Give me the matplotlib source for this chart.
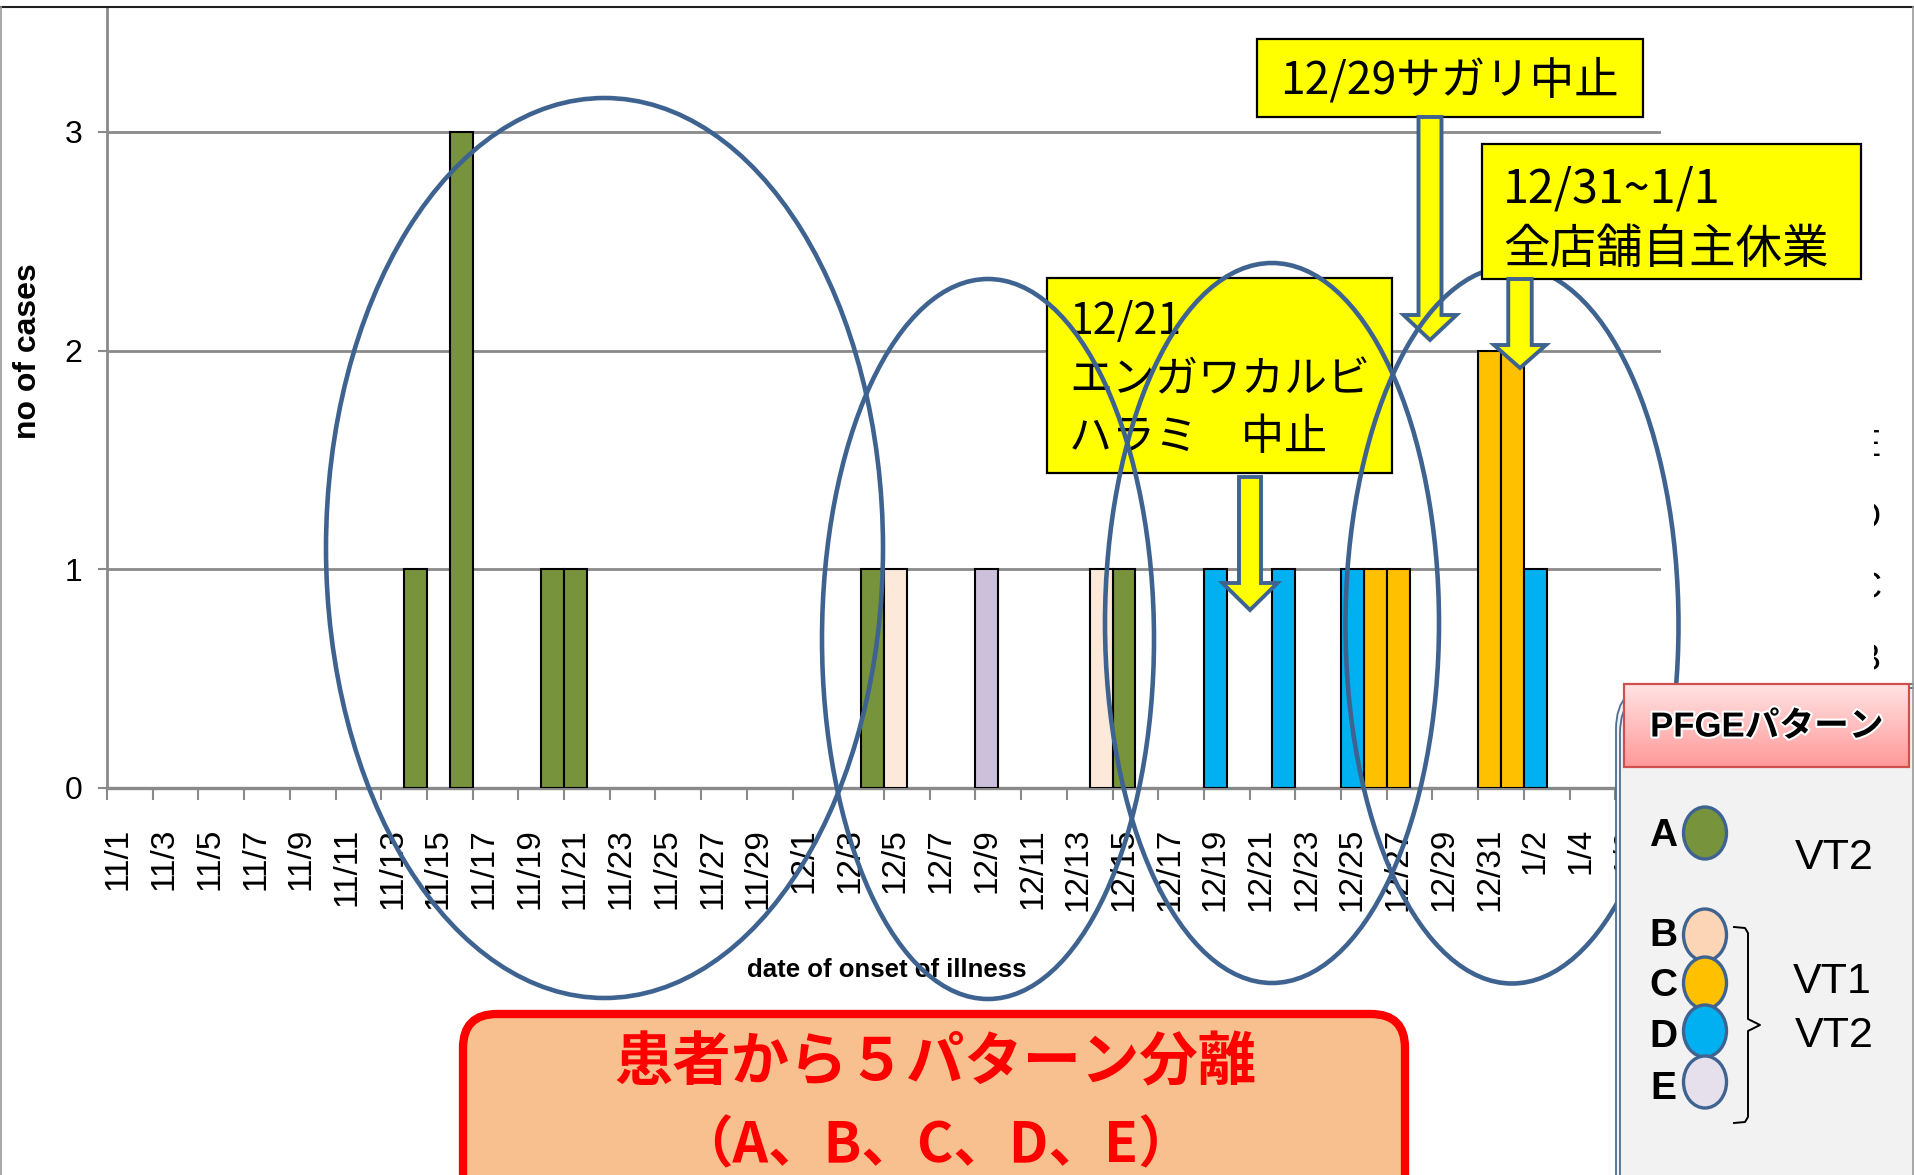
import numpy as np
import pandas as pd
import matplotlib
matplotlib.use('Agg')
import matplotlib.pyplot as plt
import matplotlib.patheffects as pe
from matplotlib import font_manager
from matplotlib.patches import Ellipse, Rectangle, FancyBboxPatch, Polygon

# onset dates on the category axis, 11/1 .. 1/7 (year not given on the slide)
days = pd.date_range('2011-11-01', '2012-01-07', freq='D')
day_labels = [f'{d.month}/{d.day}' for d in days]

# number of cases per PFGE pattern, by date of onset
cases_A = {'11/14': 1, '11/16': 3, '11/20': 1, '11/21': 1, '12/4': 1, '12/15': 1}
cases_B = {'12/5': 1, '12/14': 1}
cases_C = {'12/26': 1, '12/27': 1, '12/31': 2, '1/1': 2}
cases_D = {'12/19': 1, '12/22': 1, '12/25': 1, '1/2': 1}
cases_E = {'12/9': 1}

patterns = ['A', 'B', 'C', 'D', 'E']
pattern_cases = [cases_A, cases_B, cases_C, cases_D, cases_E]
bar_colors = ['#77933C', '#FDE9D9', '#FFC000', '#00B0F0', '#CCC1DA']
key_colors = ['#77933C', '#FBD5B5', '#FFC000', '#00B0F0', '#E6E0EC']
y_ticks = [0, 1, 2, 3]

note_2921 = '12/29サガリ中止'
note_3101 = ['12/31~1/1', '全店舗自主休業']
note_1221 = ['12/21', 'エンガワカルビ', 'ハラミ\u3000中止']
summary = ['患者から５パターン分離', '（A、B、C、D、E）']

names = {f.name for f in font_manager.fontManager.ttflist}
SANS = 'Liberation Sans'
NARROW = 'Liberation Sans Narrow' if 'Liberation Sans Narrow' in names else SANS
JP = ['Noto Sans CJK JP', 'DejaVu Sans']
plt.rcParams['font.family'] = [SANS, 'Noto Sans CJK JP', 'DejaVu Sans']

W, H = 1915, 1175
fig = plt.figure(figsize=(W / 100, H / 100), dpi=100)
fig.patch.set_facecolor('white')

x0, x1, yb, yt = 107, 1661, 787.7, 8
ax = fig.add_axes([x0 / W, 1 - yb / H, (x1 - x0) / W, (yb - yt) / H])

x = np.arange(len(days))
bottom = np.zeros(len(days))
for cases, col in zip(pattern_cases, bar_colors):
    vals = np.array([cases.get(lbl, 0) for lbl in day_labels], dtype=float)
    m = vals > 0
    ax.bar(x[m], vals[m], width=1.0, bottom=bottom[m], color=col,
           edgecolor='black', linewidth=1.5, zorder=3)
    bottom += vals

grey = '#8A8A8A'
ax.set_xlim(-0.5, len(days) - 0.5)
ax.set_ylim(0, 3.567)
ax.set_yticks(y_ticks)
ax.yaxis.grid(True, color=grey, lw=2)
ax.set_axisbelow(True)
for s in ['top', 'right']:
    ax.spines[s].set_visible(False)
ax.spines['left'].set_color(grey)
ax.spines['left'].set_linewidth(2)
ax.spines['bottom'].set_color(grey)
ax.spines['bottom'].set_linewidth(2.4)
ax.set_xticks(x[::2])
ax.set_xticklabels(day_labels[::2], rotation=90, fontsize=24)
ax.set_xticks(np.arange(-0.5, len(days), 2), minor=True)
ax.tick_params(axis='x', which='major', length=0, pad=29)
ax.tick_params(axis='x', which='minor', length=8.6, width=1.5, color=grey)
ax.tick_params(axis='y', length=6.5, width=1.5, color=grey, labelsize=23, pad=11)
ax.set_facecolor('white')

# overlay in pixel coordinates for the slide decorations
ov = fig.add_axes([0, 0, 1, 1])
ov.set_xlim(0, W)
ov.set_ylim(H, 0)
ov.axis('off')
ov.patch.set_alpha(0)

ov.text(28, 351, 'no of cases', rotation=90, ha='center', va='center',
        fontsize=23, fontweight='bold', family=NARROW, zorder=2)
ov.text(887, 970, 'date of onset of illness', ha='center', va='center',
        fontsize=18.5, fontweight='bold', family=NARROW, zorder=2)

blue = '#3F6391'
yellow = '#FFFF00'


def arrow(cx, top, base, tip, sw, hw, z):
    pts = [(cx - sw / 2, top), (cx + sw / 2, top), (cx + sw / 2, base),
           (cx + hw / 2, base), (cx, tip), (cx - hw / 2, base),
           (cx - sw / 2, base)]
    ov.add_patch(Polygon(pts, closed=True, fc=yellow, ec=blue, lw=2.8,
                         joinstyle='miter', zorder=z))


def note(x_l, y_t, x_r, y_b, z):
    ov.add_patch(Rectangle((x_l, y_t), x_r - x_l, y_b - y_t, fc=yellow,
                           ec='black', lw=1.6, zorder=z))


# 12/21 note (under the ellipses)
note(1047, 278, 1392, 473, 2)
for i, line in enumerate(note_1221):
    ov.text(1069, 322 + 58 * i, line, ha='left', va='center', fontsize=31,
            family=JP, zorder=2.1)
arrow(1250, 477, 583, 610, 22, 55, 2)

# 12/29 note
note(1257, 39, 1643, 117, 2)
ov.text(1450, 80, note_2921, ha='center', va='center', fontsize=32,
        family=JP, zorder=2.1)
arrow(1430, 117, 315, 340, 23, 53, 2)

# ellipses grouping the cases
groups = [(604.5, 548, 557, 900), (988, 639, 332, 720),
          (1272, 623, 334, 720), (1512, 625, 333, 717)]
for cx, cy, w, h in groups:
    ov.add_patch(Ellipse((cx, cy), w, h, fill=False, ec=blue, lw=3.3, zorder=3))

# 12/31~1/1 note (over the ellipses)
note(1482, 144, 1861, 279, 4)
for i, line in enumerate(note_3101):
    ov.text(1503, 189 + 61 * i, line, ha='left', va='center', fontsize=33.5,
            family=JP, zorder=4.1)
arrow(1520, 279, 345, 368, 23.5, 52, 4)

# right halves of a hidden series key peeking out at the right edge
for i, lab in enumerate(['E', 'D', 'C', 'B']):
    ov.text(1881, 447 + 71 * i, lab, ha='right', va='center', fontsize=26,
            zorder=4)
ov.add_patch(Rectangle((1820, 410), 54, 280, fc='white', ec='none', zorder=4.05))

# PFGE pattern key panel
for off, z in [(0, 5), (4, 5.1)]:
    ov.add_patch(FancyBboxPatch((1616 + off, 684 + off), 420, 600,
                                boxstyle='round,pad=0,rounding_size=45',
                                fc='#F2F2F2' if off == 0 else 'none',
                                ec='#4A6E98', lw=1.3, zorder=z))
g = np.linspace(0, 1, 64)[:, None, None]
top_c = np.array([1.0, 0.89, 0.89])
bot_c = np.array([1.0, 0.60, 0.60])
img = top_c * (1 - g) + bot_c * g
ov.imshow(img, extent=(1624, 1909, 767, 684), aspect='auto', origin='upper',
          interpolation='bilinear', zorder=6)
ov.add_patch(Rectangle((1624, 684), 285, 83, fill=False, ec='#D0504D', lw=1.6,
                       zorder=6.1))
ov.text(1767, 727, 'PFGEパターン', ha='center', va='center', fontsize=25,
        fontweight='bold', family=['Liberation Sans', 'Noto Sans CJK JP'],
        zorder=6.2, path_effects=[pe.withStroke(linewidth=3, foreground='white')])

key_y = [833, 935, 983, 1031, 1082]
key_text_y = [836, 936, 986, 1037, 1089]
for lab, col, cy, ty in zip(patterns, key_colors, key_y, key_text_y):
    ov.text(1663, ty, lab, ha='center', va='center', fontsize=28,
            fontweight='bold', zorder=6)
    ov.add_patch(Ellipse((1705, cy), 43, 52, fc=col, ec=blue, lw=2.4, zorder=6))

ov.plot([1734, 1745, 1748, 1748, 1760, 1748, 1748, 1745, 1734],
        [927, 928, 933, 1019, 1025, 1031, 1117, 1122, 1123],
        color='black', lw=1.4, zorder=6)
ov.text(1834, 858, 'VT2', ha='center', va='center', fontsize=31, zorder=6)
ov.text(1832, 982, 'VT1', ha='center', va='center', fontsize=31, zorder=6)
ov.text(1834, 1036, 'VT2', ha='center', va='center', fontsize=31, zorder=6)

# summary box at the bottom
ov.add_patch(FancyBboxPatch((463, 1014), 942, 260,
                            boxstyle='round,pad=0,rounding_size=34',
                            fc='#F9C08F', ec='#FF0000', lw=6, zorder=5))
ov.text(935, 1063, summary[0], ha='center', va='center', fontsize=42,
        fontweight='bold', color='#FF0000', family=JP, zorder=5.1)
ov.text(935, 1146, summary[1], ha='center', va='center', fontsize=40,
        fontweight='bold', color='#FF0000', family=JP, zorder=5.1)

# slide frame
ov.plot([0, W], [7, 7], color='#202020', lw=1.5, zorder=7)
ov.plot([1.5, 1.5], [7, H], color='#9A9A9A', lw=1.2, zorder=7)
ov.plot([1913, 1913], [7, H], color='#9A9A9A', lw=1.2, zorder=7)

ov.set_xlim(0, W)
ov.set_ylim(H, 0)

fig.savefig('out.png', dpi=100)
